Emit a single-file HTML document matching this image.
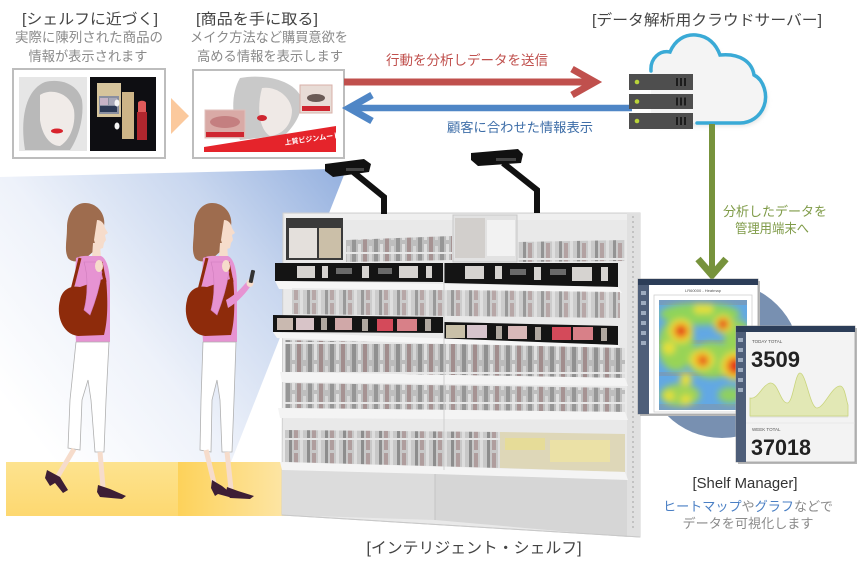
<!DOCTYPE html>
<html><head><meta charset="utf-8">
<style>
html,body{margin:0;padding:0;background:#fff;}
svg{display:block;}
text{font-family:"Liberation Sans","Noto Sans CJK JP",sans-serif;}
</style></head>
<body>
<svg width="865" height="567" viewBox="0 0 865 567" xmlns="http://www.w3.org/2000/svg">
<defs>
  <linearGradient id="beam" gradientUnits="userSpaceOnUse" x1="335" y1="172" x2="20" y2="420">
    <stop offset="0" stop-color="#98b3e0"/>
    <stop offset="0.3" stop-color="#c9d7ef"/>
    <stop offset="0.65" stop-color="#eef2fa"/>
    <stop offset="1" stop-color="#ffffff"/>
  </linearGradient>
  <linearGradient id="floorL" x1="0" y1="0" x2="0" y2="1">
    <stop offset="0" stop-color="#fde38f"/>
    <stop offset="1" stop-color="#fdd870"/>
  </linearGradient>
  <linearGradient id="floorR" x1="0" y1="0" x2="1" y2="0">
    <stop offset="0" stop-color="#fdd25a"/>
    <stop offset="0.5" stop-color="#fde4a0"/>
    <stop offset="1" stop-color="#ffffff"/>
  </linearGradient>
  <pattern id="pr" width="22" height="30" patternUnits="userSpaceOnUse">
    <rect width="22" height="30" fill="#b0b0b0"/>
    <rect x="0" y="0" width="4" height="30" fill="#7a7a7a"/>
    <rect x="6" y="4" width="3" height="26" fill="#dcdcdc"/>
    <rect x="11" y="0" width="4" height="30" fill="#8f7676"/>
    <rect x="17" y="6" width="3" height="24" fill="#cfcfcf"/>
    <rect x="0" y="12" width="22" height="2" fill="#e6e6e6"/>
  </pattern>
  <pattern id="pr2" width="18" height="30" patternUnits="userSpaceOnUse">
    <rect width="18" height="30" fill="#bdbdbd"/>
    <rect x="1" y="0" width="3" height="30" fill="#6e6e6e"/>
    <rect x="6" y="3" width="4" height="27" fill="#9c8484"/>
    <rect x="12" y="0" width="3" height="30" fill="#d9d9d9"/>
    <rect x="0" y="18" width="18" height="2" fill="#e4e4e4"/>
  </pattern>
  <filter id="blur4" x="-20%" y="-20%" width="140%" height="140%"><feGaussianBlur stdDeviation="3.5"/></filter>
  <filter id="blur2"><feGaussianBlur stdDeviation="2"/></filter>
  <clipPath id="hmclip"><rect x="659" y="300" width="88" height="110"/></clipPath>
</defs>

<!-- Beam -->
<polygon points="0,177 330,169 344,175 231,462 0,462" fill="url(#beam)"/>

<!-- Floor -->
<rect x="6" y="462" width="172" height="54" fill="url(#floorL)"/>
<rect x="178" y="462" width="200" height="54" fill="url(#floorR)"/>

<!-- ===== Top-left texts ===== -->
<text x="90" y="24" font-size="15" fill="#444" text-anchor="middle" textLength="136" lengthAdjust="spacingAndGlyphs">[シェルフに近づく]</text>
<text x="89" y="42" font-size="13.5" fill="#8a8a8a" text-anchor="middle" textLength="148" lengthAdjust="spacingAndGlyphs">実際に陳列された商品の</text>
<text x="88" y="61" font-size="13.5" fill="#8a8a8a" text-anchor="middle" textLength="119" lengthAdjust="spacingAndGlyphs">情報が表示されます</text>

<text x="257" y="24" font-size="15" fill="#444" text-anchor="middle" textLength="122" lengthAdjust="spacingAndGlyphs">[商品を手に取る]</text>
<text x="269" y="42" font-size="13.5" fill="#8a8a8a" text-anchor="middle" textLength="158" lengthAdjust="spacingAndGlyphs">メイク方法など購買意欲を</text>
<text x="270" y="61" font-size="13.5" fill="#8a8a8a" text-anchor="middle" textLength="146" lengthAdjust="spacingAndGlyphs">高める情報を表示します</text>

<!-- Box 1 -->
<rect x="13" y="69" width="152" height="89" fill="#fff" stroke="#bdbdbd" stroke-width="2"/>
<rect x="19" y="77" width="68" height="74" fill="#e6e6e6"/>
<path d="M25,150 C20,120 25,90 45,82 C62,78 78,85 82,100 C84,115 80,135 70,150 Z" fill="#b9b9b9"/>
<path d="M40,95 C50,88 70,92 74,110 C76,125 70,140 60,146 C50,146 42,135 40,120 Z" fill="#f0ebe8"/>
<ellipse cx="57" cy="131" rx="6" ry="2.5" fill="#d8232c"/>
<rect x="90" y="77" width="66" height="74" fill="#0e0e12"/>
<rect x="97" y="83" width="24" height="34" fill="#d6c49c"/>
<rect x="99" y="96" width="20" height="18" fill="#8a8fa0"/>
<rect x="100" y="98" width="8" height="7" fill="#c6b3c6"/>
<rect x="109" y="98" width="8" height="7" fill="#a8a8b8"/>
<rect x="100" y="106" width="17" height="6" fill="#2d3a55"/>
<rect x="122" y="92" width="12" height="47" fill="#cdb487"/>
<ellipse cx="117" cy="103" rx="2.5" ry="3.5" fill="#f4f4f4"/>
<ellipse cx="117" cy="126" rx="2.5" ry="3.5" fill="#f4f4f4"/>
<rect x="137" y="112" width="10" height="28" fill="#b0262e"/>
<path d="M138,112 L138,103 C138,100 146,100 146,103 L146,112 Z" fill="#e05a5a"/>

<!-- Orange triangle -->
<polygon points="171,98 189,116 171,134" fill="#fbc99d"/>

<!-- Box 2 -->
<rect x="193" y="70" width="151" height="88" fill="#fff" stroke="#bdbdbd" stroke-width="2"/>
<path d="M240,78 C260,74 290,78 300,95 C305,110 295,125 285,135 L240,140 C232,120 230,95 240,78 Z" fill="#c9c9c9"/>
<path d="M262,88 C275,86 290,95 292,110 C292,125 282,135 270,136 C260,130 256,110 262,88 Z" fill="#efe9e6"/>
<ellipse cx="262" cy="118" rx="5" ry="3" fill="#cf2630"/>
<rect x="300" y="85" width="32" height="28" fill="#e8dcd6" stroke="#d9b0a8"/>
<ellipse cx="316" cy="98" rx="9" ry="4" fill="#6a5a55"/>
<rect x="302" y="106" width="28" height="5" fill="#cf2630"/>
<rect x="205" y="110" width="40" height="28" fill="#d9aaa6" stroke="#e0c0bc"/>
<ellipse cx="225" cy="122" rx="15" ry="6" fill="#c47f80"/>
<rect x="206" y="132" width="38" height="5" fill="#cf2630"/>
<polygon points="204,152 204,147 336,126 336,152" fill="#e5242b"/>
<text x="285" y="145" font-size="7" fill="#fff" font-weight="bold" transform="rotate(-8 285 145)">上質ビジンムード</text>

<!-- Red arrow -->
<line x1="344" y1="82" x2="592" y2="82" stroke="#c0504d" stroke-width="7"/>
<polyline points="572,69 595,82 572,95" fill="none" stroke="#c0504d" stroke-width="7" stroke-linejoin="miter"/>
<text x="467" y="65" font-size="13.5" fill="#c0504d" text-anchor="middle" textLength="162" lengthAdjust="spacingAndGlyphs">行動を分析しデータを送信</text>

<!-- Blue arrow -->
<line x1="352" y1="108" x2="632" y2="108" stroke="#4f86c6" stroke-width="6.5"/>
<polyline points="372,95 349,108 372,121" fill="none" stroke="#4f86c6" stroke-width="7"/>
<text x="520" y="132" font-size="13.3" fill="#3e6ea8" text-anchor="middle" textLength="146" lengthAdjust="spacingAndGlyphs">顧客に合わせた情報表示</text>

<!-- Cloud server title -->
<text x="707" y="25" font-size="15" fill="#444" text-anchor="middle" textLength="230" lengthAdjust="spacingAndGlyphs">[データ解析用クラウドサーバー]</text>

<!-- Cloud -->
<path d="M651,71 C650,58 660,50 670,52 C675,40 685,34 696,35 C708,36 716,44 720,55 C740,53 752,62 754,75 C764,80 768,95 764,106 C760,117 750,123 740,123 L651,123 Z" fill="#e4e4e4" filter="url(#blur2)" transform="translate(2,3)"/>
<path d="M651,71 C650,58 660,50 670,52 C675,40 685,34 696,35 C708,36 716,44 720,55 C740,53 752,62 754,75 C764,80 768,95 764,106 C760,117 750,123 740,123 L651,123 Z" fill="#f4f4f4"/>
<path d="M651,71 C650,58 660,50 670,52 C675,40 685,34 696,35 C708,36 716,44 720,55 C740,53 752,62 754,75 C764,80 768,95 764,106 C760,117 750,123 740,123 L697,123" fill="none" stroke="#3aaad6" stroke-width="3.5" stroke-linecap="round"/>

<!-- Green arrow -->
<line x1="712" y1="124" x2="712" y2="276" stroke="#77933c" stroke-width="6"/>
<polyline points="698,259 712,275 726,259" fill="none" stroke="#77933c" stroke-width="7"/>
<text x="775" y="216" font-size="13.3" fill="#7f9b48" text-anchor="middle" textLength="104" lengthAdjust="spacingAndGlyphs">分析したデータを</text>
<text x="772" y="233" font-size="13.3" fill="#7f9b48" text-anchor="middle" textLength="74" lengthAdjust="spacingAndGlyphs">管理用端末へ</text>

<!-- Server -->
<g>
  <rect x="629" y="74" width="64" height="16" fill="#4e4e4e"/>
  <rect x="629" y="94" width="64" height="15" fill="#4e4e4e"/>
  <rect x="629" y="113" width="64" height="16" fill="#4e4e4e"/>
  <circle cx="637" cy="82" r="2.3" fill="#b9d43a"/>
  <circle cx="637" cy="101.5" r="2.3" fill="#b9d43a"/>
  <circle cx="637" cy="121" r="2.3" fill="#b9d43a"/>
  <g fill="#1c1c1c">
    <rect x="676" y="78" width="2" height="8"/><rect x="680" y="78" width="2" height="8"/><rect x="684" y="78" width="2" height="8"/>
    <rect x="676" y="97.5" width="2" height="8"/><rect x="680" y="97.5" width="2" height="8"/><rect x="684" y="97.5" width="2" height="8"/>
    <rect x="676" y="117" width="2" height="8"/><rect x="680" y="117" width="2" height="8"/><rect x="684" y="117" width="2" height="8"/>
  </g>
</g>

<!-- ===== Shelf ===== -->
<polygon points="283,213 640,213 640,537 282,515" fill="#e9e9e9" stroke="#d0d0d0"/>
<rect x="627" y="213" width="13" height="324" fill="#e0e0e0"/>
<line x1="633" y1="216" x2="633" y2="530" stroke="#b8b8b8" stroke-width="1.5" stroke-dasharray="2,3"/>
<rect x="285" y="214" width="342" height="6" fill="#efefef"/>

<!-- Row A -->
<polygon points="346,240 452,236 452,260 346,262" fill="url(#pr)" opacity="0.75"/>
<polygon points="518,242 625,240 625,261 518,262" fill="url(#pr2)" opacity="0.7"/>
<rect x="286" y="218" width="57" height="42" fill="#3a3a3a"/>
<rect x="289" y="228" width="28" height="30" fill="#e4e0dc"/>
<rect x="319" y="228" width="22" height="30" fill="#cbbfa8"/>
<rect x="453" y="215" width="64" height="47" fill="#e2e2e2" stroke="#c8c8c8"/>
<rect x="455" y="218" width="30" height="40" fill="#d2cfcc"/>
<rect x="487" y="220" width="28" height="36" fill="#f2f2f2"/>

<!-- Strip 1 -->
<polygon points="275,263 443,263 443,282 275,281" fill="#141414"/>
<polygon points="444,263 618,263 618,287 444,283" fill="#141414"/>
<g fill="#d6d3d0">
  <rect x="297" y="266" width="18" height="12"/><rect x="322" y="266" width="6" height="12"/>
  <rect x="362" y="266" width="7" height="12"/><rect x="399" y="266" width="19" height="12"/><rect x="426" y="266" width="6" height="12"/>
  <rect x="465" y="266" width="19" height="13"/><rect x="495" y="266" width="7" height="13"/>
  <rect x="534" y="267" width="7" height="13"/><rect x="572" y="267" width="20" height="14"/><rect x="601" y="267" width="7" height="14"/>
</g>
<g fill="#6a6a6a"><rect x="336" y="268" width="16" height="6"/><rect x="378" y="268" width="14" height="6"/><rect x="510" y="269" width="16" height="6"/><rect x="550" y="269" width="16" height="6"/></g>
<polygon points="275,281 618,287 622,293 279,289" fill="#f6f6f6"/>

<!-- Row B -->
<polygon points="292,288 620,292 620,318 292,314" fill="url(#pr2)" opacity="0.65"/>

<!-- Strip 2 -->
<polygon points="273,315 443,317 443,333 273,332" fill="#141414"/>
<polygon points="444,322 618,326 618,345 444,340" fill="#141414"/>
<g>
  <rect x="277" y="318" width="16" height="12" fill="#c9b9b0"/><rect x="296" y="318" width="18" height="12" fill="#d8c4c8"/>
  <rect x="321" y="318" width="6" height="12" fill="#b0a8a0"/><rect x="335" y="318" width="17" height="12" fill="#d0a8a8"/>
  <rect x="362" y="319" width="6" height="12" fill="#b0a8a0"/><rect x="377" y="319" width="16" height="12" fill="#d44a5a"/>
  <rect x="397" y="319" width="20" height="12" fill="#d88088"/><rect x="425" y="319" width="6" height="12" fill="#b0a8a0"/>
  <rect x="446" y="325" width="19" height="13" fill="#c9c0a8"/><rect x="467" y="325" width="20" height="13" fill="#d6c4cc"/>
  <rect x="496" y="326" width="6" height="13" fill="#b0a8a0"/><rect x="508" y="326" width="19" height="13" fill="#d8b8b8"/>
  <rect x="535" y="327" width="6" height="13" fill="#b0a8a0"/><rect x="552" y="327" width="19" height="13" fill="#d44a5a"/>
  <rect x="573" y="327" width="20" height="13" fill="#d88088"/><rect x="601" y="328" width="6" height="13" fill="#b0a8a0"/>
</g>
<polygon points="273,332 618,345 622,350 277,338" fill="#f6f6f6"/>

<!-- Row C -->
<polygon points="285,340 625,348 625,378 285,372" fill="url(#pr)" opacity="0.8"/>
<polygon points="280,372 625,378 628,386 282,382" fill="#f4f4f4"/>
<!-- Row D -->
<polygon points="285,383 625,388 625,412 285,408" fill="url(#pr)" opacity="0.75"/>
<polygon points="278,408 625,412 628,420 280,418" fill="#f4f4f4"/>
<!-- Row E -->
<polygon points="285,430 500,432 500,468 285,462" fill="url(#pr2)" opacity="0.75"/>
<polygon points="500,432 625,434 625,472 500,468" fill="#ded7b8"/>
<rect x="505" y="438" width="40" height="12" fill="#e6dc98"/>
<rect x="550" y="440" width="60" height="22" fill="#ebe1a6"/>
<polygon points="280,462 625,472 628,480 282,470" fill="#f4f4f4"/>
<!-- Base -->
<polygon points="282,470 435,474 435,520 282,515" fill="#dcdcdc"/>
<polygon points="435,474 627,480 627,537 435,520" fill="#d6d6d6"/>
<line x1="435" y1="474" x2="435" y2="520" stroke="#c4c4c4"/>
<line x1="282" y1="515" x2="640" y2="537" stroke="#c8c8c8"/>
<line x1="444" y1="263" x2="444" y2="470" stroke="#cfcfcf" stroke-width="1"/>

<!-- Cameras -->
<polyline points="352,171 384,197 384,214" fill="none" stroke="#111" stroke-width="6" stroke-linejoin="miter"/>
<polygon points="325,164 364,159 371,164 369,172 333,177 325,171" fill="#111"/>
<rect x="346" y="168" width="18" height="3" fill="#444"/>
<polyline points="503,163 537,190 537,213" fill="none" stroke="#111" stroke-width="6"/>
<polygon points="471,153 518,149 523,154 521,163 478,166 471,160" fill="#111"/>
<rect x="496" y="158" width="20" height="3" fill="#444"/>

<text x="474" y="553" font-size="15.5" fill="#444" text-anchor="middle" textLength="215" lengthAdjust="spacingAndGlyphs">[インテリジェント・シェルフ]</text>

<!-- ===== Women ===== -->
<g id="w1">
  <path d="M85,203 C74,203 67,214 67,228 C67,240 64,250 68,258 C72,263 80,262 86,258 L95,250 C97,244 96,236 98,228 L104,226 C106,215 98,203 85,203 Z" fill="#9e6c4e"/>
  <path d="M97,220 C101,220 104,223 105,228 L108,233 L105,235 L106,240 L104,243 L103,248 L97,250 L94,240 Z" fill="#f6dccb"/>
  <path d="M93,243 L100,243 L101,258 L92,258 Z" fill="#f6dccb"/>
  <path d="M76,258 C82,255 88,256 92,256 L101,256 C106,258 110,268 110,285 L110,342 L76,342 C75,320 74,290 76,258 Z" fill="#e693d2"/>
  <path d="M60,300 C62,290 70,285 80,287 L106,278 C108,300 108,320 104,335 L78,336 C62,334 56,315 60,300 Z" fill="#8e2b0b"/>
  <line x1="80" y1="258" x2="72" y2="290" stroke="#8e2b0b" stroke-width="3"/>
  <line x1="101" y1="262" x2="105" y2="282" stroke="#8e2b0b" stroke-width="3"/>
  <path d="M84,262 C88,275 88,295 84,310 L90,315 C96,300 100,285 102,272 L97,262 Z" fill="#e693d2" stroke="#cf7dbd" stroke-width="0.6"/>
  <ellipse cx="99" cy="266" rx="4" ry="6" fill="#f6dccb"/>
</g>
<path d="M76,342 L109,342 L106,400 L104,452 L95,452 L91,400 L88,380 L82,400 L80,450 L68,448 L70,400 Z" fill="#fff" stroke="#b0b0b0" stroke-width="0.8"/>
<line x1="74" y1="449" x2="58" y2="476" stroke="#f6dccb" stroke-width="5"/>
<line x1="100" y1="452" x2="103" y2="487" stroke="#f6dccb" stroke-width="5"/>
<path d="M47,470 L60,477 L68,490 L63,493 L55,483 L50,486 L45,478 Z" fill="#3d1e35"/>
<path d="M98,485 L110,489 L126,496 L122,499 L100,497 L97,492 Z" fill="#3d1e35"/>

<use href="#w1" transform="translate(127,0)"/>
<path d="M226,300 C235,295 242,288 248,280 L252,284 C246,293 238,302 228,308 Z" fill="#e693d2"/>
<ellipse cx="250" cy="283" rx="3.5" ry="4" fill="#f6dccb"/>
<rect x="250" y="270" width="4" height="13" rx="1" fill="#333" transform="rotate(12 252 276)"/>
<path d="M203,342 L236,342 L234,400 L232,452 L222,452 L220,400 L217,380 L212,400 L211,452 L200,450 L201,400 Z" fill="#fff" stroke="#b0b0b0" stroke-width="0.8"/>
<line x1="206" y1="450" x2="214" y2="483" stroke="#f6dccb" stroke-width="5"/>
<line x1="227" y1="452" x2="231" y2="489" stroke="#f6dccb" stroke-width="5"/>
<path d="M212,480 L222,486 L232,494 L229,497 L218,494 L215,496 L211,488 Z" fill="#3d1e35"/>
<path d="M227,487 L238,491 L254,496 L250,499 L230,498 L226,493 Z" fill="#3d1e35"/>

<!-- ===== Shelf Manager ===== -->
<circle cx="722" cy="360" r="78" fill="#7890b1"/>
<!-- window 1 -->
<rect x="640" y="281" width="120" height="135" fill="#b8b8b8"/>
<rect x="638" y="279" width="120" height="135" fill="#fff" stroke="#a0a0a0" stroke-width="0.8"/>
<rect x="638" y="279" width="120" height="6" fill="#2c3d58"/>
<rect x="638" y="285" width="11" height="129" fill="#4e5e79"/>
<g fill="#9eacc0"><rect x="641" y="291" width="5" height="4"/><rect x="641" y="301" width="5" height="4"/><rect x="641" y="311" width="5" height="4"/><rect x="641" y="321" width="5" height="4"/><rect x="641" y="331" width="5" height="4"/><rect x="641" y="341" width="5" height="4"/></g>
<text x="703" y="292" font-size="4" fill="#555" text-anchor="middle">LR60000 - Heatmap</text>
<rect x="654" y="295" width="98" height="117" fill="none" stroke="#d0d0d0" stroke-width="0.8"/>
<g clip-path="url(#hmclip)">
  <rect x="659" y="300" width="88" height="110" fill="#62a8e4"/>
  <g fill="#8494a6" opacity="0.55">
    <rect x="659" y="300" width="88" height="5"/>
    <rect x="659" y="340" width="88" height="4"/>
    <rect x="659" y="372" width="88" height="4"/>
    <rect x="659" y="404" width="88" height="6"/>
  </g>
  <g filter="url(#blur4)">
    <ellipse cx="700" cy="314" rx="40" ry="11" fill="#8fd45a"/>
    <ellipse cx="676" cy="345" rx="18" ry="26" fill="#98d456"/>
    <ellipse cx="712" cy="360" rx="24" ry="18" fill="#98d456"/>
    <ellipse cx="738" cy="340" rx="14" ry="20" fill="#98d456"/>
    <ellipse cx="680" cy="395" rx="20" ry="11" fill="#a0d455"/>
    <ellipse cx="730" cy="395" rx="12" ry="8" fill="#8fd060"/>
    <circle cx="681" cy="331" r="12" fill="#ede034"/>
    <circle cx="723" cy="324" r="9" fill="#ede034"/>
    <ellipse cx="702" cy="360" rx="12" ry="10" fill="#ede034"/>
    <circle cx="735" cy="366" r="14" fill="#ede034"/>
    <circle cx="699" cy="309" r="5" fill="#ede034"/>
    <circle cx="708" cy="309" r="5" fill="#ede034"/>
    <circle cx="669" cy="348" r="6" fill="#ede034"/>
    <circle cx="686" cy="379" r="6" fill="#ede034"/>
    <circle cx="669" cy="396" r="5" fill="#ede034"/>
    <circle cx="686" cy="400" r="5" fill="#ede034"/>
    <circle cx="681" cy="331" r="8" fill="#f49a20"/>
    <circle cx="723" cy="324" r="6" fill="#f49a20"/>
    <circle cx="702" cy="360" r="7" fill="#f49a20"/>
    <circle cx="735" cy="366" r="10" fill="#f49a20"/>
    <circle cx="681" cy="331" r="5" fill="#e0201a"/>
    <circle cx="723" cy="324" r="4.5" fill="#e0201a"/>
    <circle cx="704" cy="361" r="4" fill="#e0201a"/>
    <circle cx="736" cy="366" r="7" fill="#e0201a"/>
  </g>
</g>
<!-- window 2 -->
<rect x="738" y="328" width="119" height="136" fill="#b8b8b8"/>
<rect x="736" y="326" width="119" height="136" fill="#f3f3f3" stroke="#a0a0a0" stroke-width="0.8"/>
<rect x="736" y="326" width="119" height="6" fill="#2c3d58"/>
<rect x="736" y="332" width="10" height="130" fill="#4e5e79"/>
<g fill="#9eacc0"><rect x="738" y="338" width="5" height="4"/><rect x="738" y="348" width="5" height="4"/><rect x="738" y="358" width="5" height="4"/><rect x="738" y="368" width="5" height="4"/><rect x="738" y="378" width="5" height="4"/><rect x="738" y="388" width="5" height="4"/></g>
<text x="752" y="343" font-size="4.5" fill="#555">TODAY TOTAL</text>
<text x="751" y="367" font-size="22" font-weight="bold" fill="#222" textLength="49" lengthAdjust="spacingAndGlyphs">3509</text>
<path d="M750,416 L750,398 C758,400 762,385 770,383 C778,382 780,402 787,403 C793,404 795,373 800,373 C806,373 810,408 817,408 C824,408 832,386 840,386 C845,386 846,400 848,405 L848,416 Z" fill="#e2e8b5" stroke="#c9d47c" stroke-width="0.8"/>
<line x1="750" y1="417" x2="848" y2="417" stroke="#ccc" stroke-width="0.6"/>
<line x1="746" y1="423" x2="855" y2="423" stroke="#ddd" stroke-width="0.6"/>
<text x="752" y="431" font-size="4.5" fill="#555">WEEK TOTAL</text>
<text x="751" y="455" font-size="22" font-weight="bold" fill="#222" textLength="60" lengthAdjust="spacingAndGlyphs">37018</text>

<text x="745" y="488" font-size="14.5" fill="#333" text-anchor="middle" textLength="105" lengthAdjust="spacingAndGlyphs">[Shelf Manager]</text>
<text x="748" y="511" font-size="13" fill="#8a8a8a" text-anchor="middle" textLength="170" lengthAdjust="spacingAndGlyphs"><tspan fill="#4a7fc4">ヒートマップ</tspan>や<tspan fill="#4a7fc4">グラフ</tspan>などで</text>
<text x="748" y="528" font-size="13" fill="#8a8a8a" text-anchor="middle" textLength="131" lengthAdjust="spacingAndGlyphs">データを可視化します</text>
</svg>
</body></html>
